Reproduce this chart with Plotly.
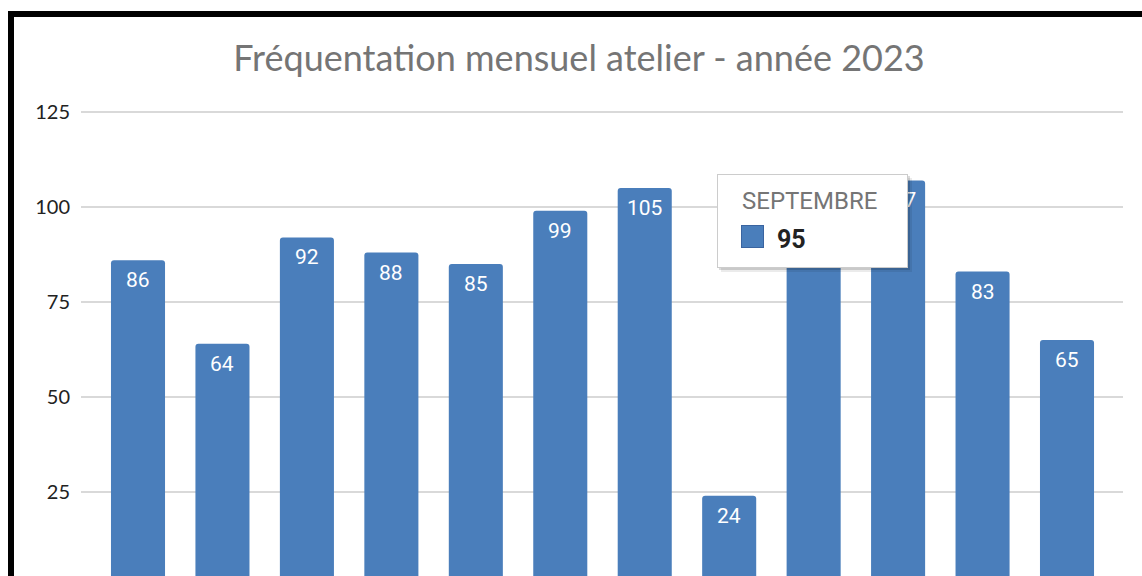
import plotly.graph_objects as go

# ---- data ----
months = ["JANVIER", "FÉVRIER", "MARS", "AVRIL", "MAI", "JUIN", "JUILLET",
          "AOÛT", "SEPTEMBRE", "OCTOBRE", "NOVEMBRE", "DÉCEMBRE"]
visits = [86, 64, 92, 88, 85, 99, 105, 24, 95, 107, 83, 65]
y_ticks = [25, 50, 75, 100, 125]
title_text = "Fréquentation mensuel atelier - année 2023"
tooltip_index = 8

# ---- layout geometry (pixels) ----
W, H = 1142, 576
PXU = 3.8                       # pixels per unit on y
TOP_EXTRA = 3                   # pixels above the 125 gridline
L, R, T, B = 81, W - 1123, 112 - TOP_EXTRA, 0
PW, PH = W - L - R, H - T - B
BAR = "#4a7ebb"


def px_x(px):
    return (px - L) / PW


def px_y(py):
    return (H - B - py) / PH


fig = go.Figure()
fig.add_trace(go.Bar(
    x=list(range(len(months))),
    y=visits,
    width=0.64,
    marker=dict(color=BAR, line=dict(width=0), cornerradius=3),
    hoverinfo="skip",
))

shapes = []
# black frame (left and top)
shapes.append(dict(type="rect", xref="paper", yref="paper",
                   x0=px_x(8), x1=px_x(14), y0=px_y(600), y1=px_y(11),
                   fillcolor="black", line=dict(width=0), layer="above"))
shapes.append(dict(type="rect", xref="paper", yref="paper",
                   x0=px_x(8), x1=px_x(1150), y0=px_y(17), y1=px_y(11),
                   fillcolor="black", line=dict(width=0), layer="above"))

annotations = []
# value labels inside bars (the one under the tooltip is fully hidden)
for i, v in enumerate(visits):
    if i == tooltip_index:
        continue
    annotations.append(dict(x=i, y=v, xref="x", yref="y", text=str(v),
                            showarrow=False, xanchor="center", yanchor="middle",
                            yshift=-20,
                            font=dict(family="Roboto", size=21, color="white")))

# tooltip: shadow, box, square, texts
TX0, TY0, TW, TH = 717, 174, 191, 94
for dx, dy, c in [(4, 4, "rgba(0,0,0,0.08)"), (2, 2, "rgba(0,0,0,0.14)")]:
    annotations.append(dict(xref="paper", yref="paper", x=px_x(TX0 + dx), y=px_y(TY0 + dy),
                            xanchor="left", yanchor="top", showarrow=False, text=" ",
                            width=TW, height=TH, bgcolor=c, borderpad=0, borderwidth=0))
annotations.append(dict(xref="paper", yref="paper", x=px_x(TX0), y=px_y(TY0),
                        xanchor="left", yanchor="top", showarrow=False, text=" ",
                        width=TW - 2, height=TH - 2, bgcolor="white",
                        bordercolor="#cccccc", borderwidth=1, borderpad=0))
annotations.append(dict(xref="paper", yref="paper", x=px_x(741), y=px_y(225),
                        xanchor="left", yanchor="top", showarrow=False, text=" ",
                        width=21, height=21, bgcolor=BAR,
                        bordercolor="#3a64a0", borderwidth=1, borderpad=0))
annotations.append(dict(xref="paper", yref="paper", x=px_x(740), y=px_y(201),
                        xanchor="left", yanchor="middle", showarrow=False,
                        text=months[tooltip_index],
                        font=dict(family="Roboto", size=24, color="#757575")))
annotations.append(dict(xref="paper", yref="paper", x=px_x(775), y=px_y(239),
                        xanchor="left", yanchor="middle", showarrow=False,
                        text="<b>" + str(visits[tooltip_index]) + "</b>",
                        font=dict(family="Roboto", size=25, color="#222222")))

ymax = 125 + TOP_EXTRA / PXU
ymin = ymax - PH / PXU

fig.update_layout(
    width=W, height=H,
    margin=dict(l=L, r=R, t=T, b=B, pad=0),
    paper_bgcolor="white", plot_bgcolor="white",
    showlegend=False,
    title=dict(text=title_text, x=579 / W, xanchor="center", xref="container",
               y=1 - 58 / H, yanchor="middle", yref="container",
               font=dict(family="Lato", size=36, color="#757575")),
    xaxis=dict(range=[-0.675, 11.663], showgrid=False, zeroline=False,
               showticklabels=False, ticks="", showline=False, fixedrange=True),
    yaxis=dict(range=[ymin, ymax], tickvals=y_ticks, ticktext=[str(v) for v in y_ticks],
               showgrid=True, gridcolor="#d9d9d9", gridwidth=2, zeroline=False,
               showline=False, ticks="", ticklabelstandoff=10, fixedrange=True,
               tickfont=dict(family="Lato", size=20, color="#222222")),
    shapes=shapes,
    annotations=annotations,
)

fig.write_html("out.html",
               config={"displayModeBar": False},
               post_script="document.body.style.margin='0';"
                           "document.body.style.overflow='hidden';")
